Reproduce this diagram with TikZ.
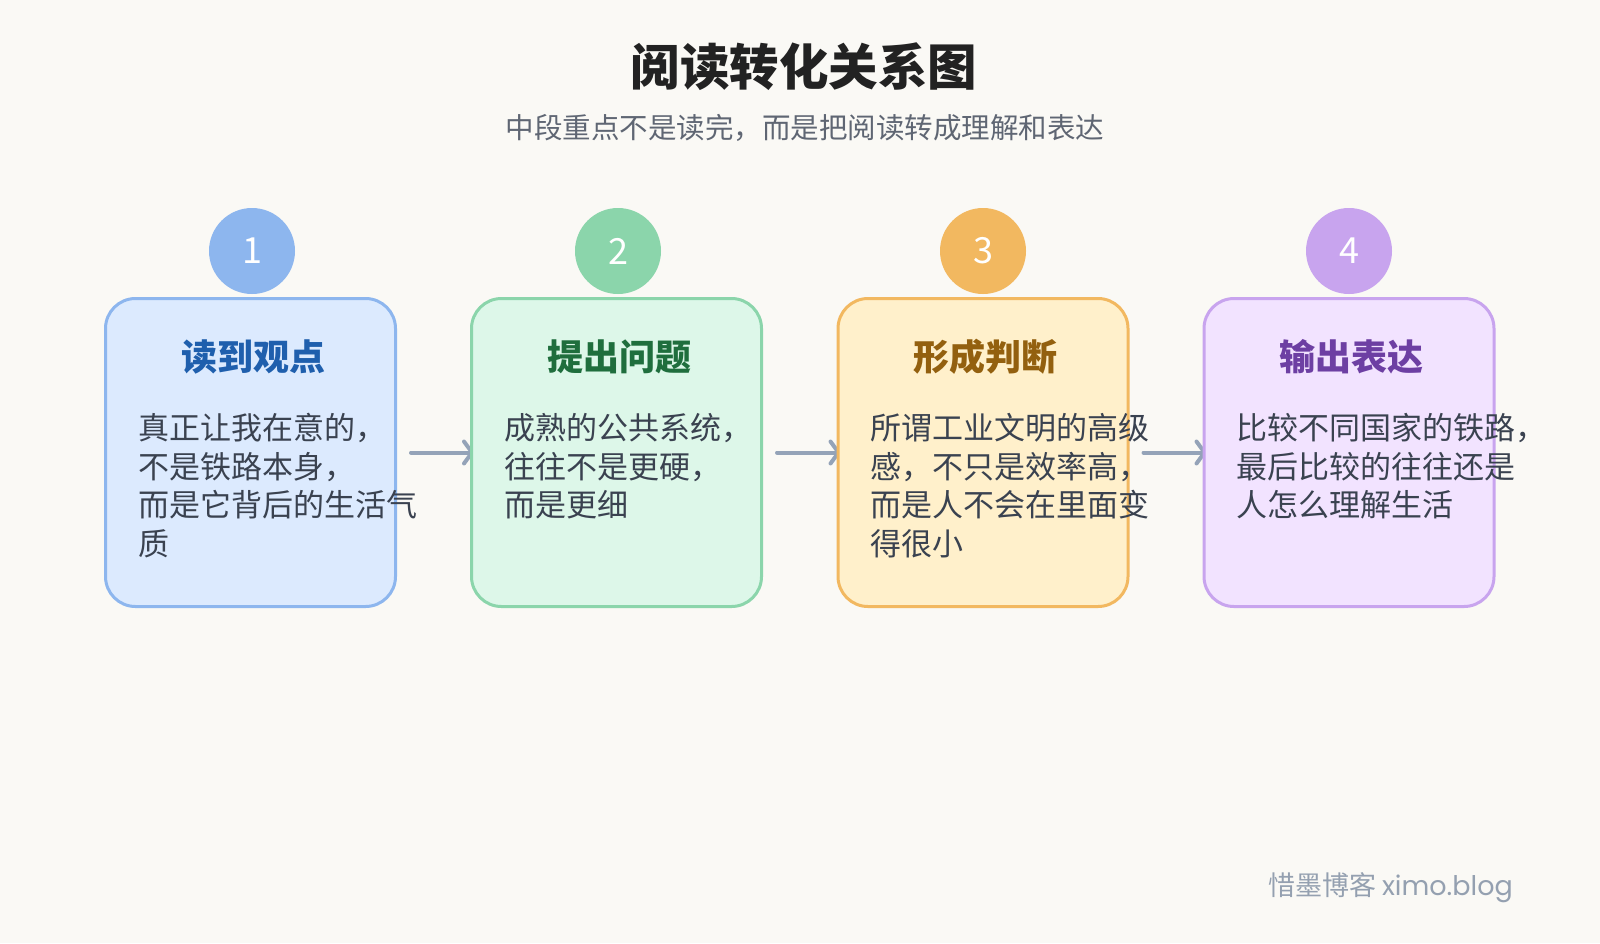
\documentclass[tikz,border=0pt]{standalone}
\usepackage{fontspec}
\setmainfont{Noto Sans CJK SC}
\newfontfamily\latinwm{Poppins}
\usetikzlibrary{arrows.meta}
\pgfdeclarelayer{back}
\pgfsetlayers{back,main}
\definecolor{bg}{HTML}{FAF9F5}
\definecolor{titlec}{HTML}{222222}
\definecolor{subc}{HTML}{5F6673}
\definecolor{bodyc}{HTML}{3A4250}
\definecolor{arrc}{HTML}{94A3B8}
\definecolor{wmc}{HTML}{94A0B0}
\definecolor{fa}{HTML}{DCEAFE}\definecolor{ba}{HTML}{8DB6EE}\definecolor{ha}{HTML}{1F5FAD}
\definecolor{fb}{HTML}{DDF7E9}\definecolor{bb}{HTML}{8BD5AB}\definecolor{hb}{HTML}{1F6E3D}
\definecolor{fc}{HTML}{FFF0CB}\definecolor{bc}{HTML}{F2B860}\definecolor{hc}{HTML}{93600F}
\definecolor{fd}{HTML}{F2E3FF}\definecolor{bd}{HTML}{C8A4EE}\definecolor{hd}{HTML}{6D3FA3}
\tikzset{
  card/.style={draw, line width=3pt, rounded corners=30pt, minimum width=290pt, minimum height=308pt, inner sep=0pt},
  badge/.style={circle, minimum size=86pt, inner sep=0pt, text=white, font=\fontsize{36}{40}\selectfont},
  head/.style={anchor=base, inner sep=0pt, font=\fontsize{36}{40}\selectfont\bfseries},
  bodyline/.style={anchor=base west, inner sep=0pt, text=bodyc, font=\fontsize{31}{36}\selectfont},
  flow/.style={draw=arrc, line width=4pt, line cap=round, -{Straight Barb[length=8pt,width=22pt,line cap=round,line join=round]}},
}
\begin{document}
\begin{tikzpicture}[x=1pt,y=-1pt]
\begin{pgfonlayer}{back}
\fill[bg] (0,0) rectangle (1600,943);
\end{pgfonlayer}
\useasboundingbox (0,0) rectangle (1600,943);

\node[anchor=base, inner sep=0pt, text=titlec, font=\fontsize{49.5}{56}\selectfont\bfseries] (title) at (804,85) {阅读转化关系图};
\node[anchor=base, inner sep=0pt, text=subc, font=\fontsize{28.5}{34}\selectfont] (subtitle) at (805,138) {中段重点不是读完，而是把阅读转成理解和表达};

% boxes
\node[card, draw=ba, fill=fa] (box1) at (250.5,452.5) {};
\node[card, draw=bb, fill=fb] (box2) at (616.5,452.5) {};
\node[card, draw=bc, fill=fc] (box3) at (983,452.5) {};
\node[card, draw=bd, fill=fd] (box4) at (1349,452.5) {};

% arrows, behind the boxes
\begin{pgfonlayer}{back}
\draw[flow] ([xshift=14pt]box1.east) -- ([xshift=4pt]box2.west);
\draw[flow] ([xshift=14pt]box2.east) -- ([xshift=4pt]box3.west);
\draw[flow] ([xshift=14pt]box3.east) -- ([xshift=4pt]box4.west);
\end{pgfonlayer}

% badges
\node[badge, fill=ba] (n1) at (252,251) {1};
\node[badge, fill=bb] (n2) at (618,251) {2};
\node[badge, fill=bc] (n3) at (983,251) {3};
\node[badge, fill=bd] (n4) at (1349,251) {4};

% headings
\node[head, text=ha] (h1) at (253,370) {读到观点};
\node[head, text=hb] (h2) at (619,370) {提出问题};
\node[head, text=hc] (h3) at (985,370) {形成判断};
\node[head, text=hd] (h4) at (1351,370) {输出表达};

% body texts
\node[bodyline] (t11) at (138,439.5) {真正让我在意的，};
\node[bodyline] (t12) at (138,478) {不是铁路本身，};
\node[bodyline] (t13) at (138,516.5) {而是它背后的生活气};
\node[bodyline] (t14) at (138,555) {质};

\node[bodyline] (t21) at (504,439.5) {成熟的公共系统，};
\node[bodyline] (t22) at (504,478) {往往不是更硬，};
\node[bodyline] (t23) at (504,516.5) {而是更细};

\node[bodyline] (t31) at (870,439.5) {所谓工业文明的高级};
\node[bodyline] (t32) at (870,478) {感，不只是效率高，};
\node[bodyline] (t33) at (870,516.5) {而是人不会在里面变};
\node[bodyline] (t34) at (870,555) {得很小};

\node[bodyline] (t41) at (1236,439.5) {比较不同国家的铁路，};
\node[bodyline] (t42) at (1236,478) {最后比较的往往还是};
\node[bodyline] (t43) at (1236,516.5) {人怎么理解生活};

\node[anchor=base east, inner sep=0pt, text=wmc, font=\fontsize{27}{30}\selectfont] (wm) at (1513,895) {惜墨博客 {\latinwm ximo.blog}};
\end{tikzpicture}
\end{document}
